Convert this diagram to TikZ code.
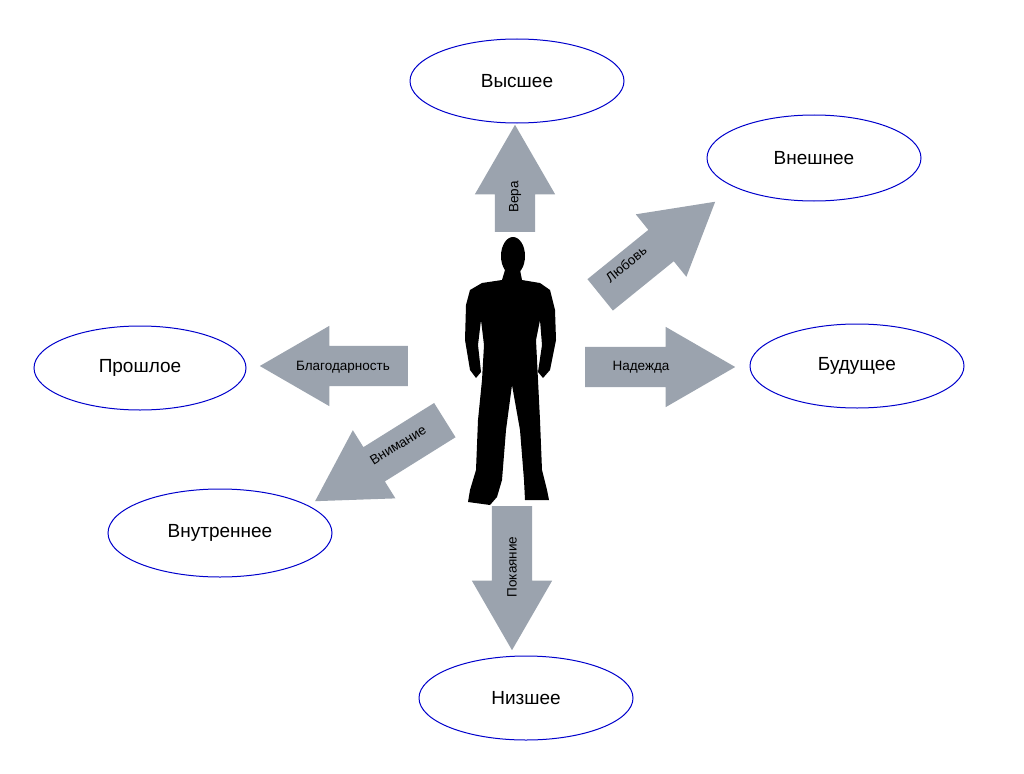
\documentclass[tikz,border=0pt]{standalone}
\usepackage{fontspec}
\setmainfont{Liberation Sans}
\usetikzlibrary{shapes.geometric,shapes.arrows}
\begin{document}
\begin{tikzpicture}[x=1pt,y=-1pt,
  ell/.style={ellipse,draw=blue!80!black,line width=1pt,fill=white,font=\fontsize{19}{21}\selectfont},
  arr/.style={single arrow,fill=arrgray,draw=none,inner sep=0pt,inner ysep=20pt,text height=0pt,text depth=0pt,text width=0pt,
    single arrow head extend=20pt,single arrow tip angle=60,anchor=tail},
  lab/.style={font=\fontsize{13.5}{15}\selectfont,inner sep=0pt}]
\definecolor{arrgray}{HTML}{9BA3AE}
\useasboundingbox (0,0) rectangle (1024,773);
\node[ell,minimum width=214pt,minimum height=84pt] (vys) at (517,81) {Высшее};
\node[ell,minimum width=214pt,minimum height=86pt] (vne) at (814,158) {Внешнее};
\node[ell,minimum width=212pt,minimum height=84pt] (pro) at (140,368) {Прошлое};
\node[ell,minimum width=214pt,minimum height=84pt] (bud) at (857,366) {Будущее};
\node[ell,minimum width=224pt,minimum height=88pt] (vnu) at (220,533) {Внутреннее};
\node[ell,minimum width=214pt,minimum height=84pt] (niz) at (526,698) {Низшее};
\node[arr,minimum height=107pt,rotate=90] (a1) at (515,232) {};
\node[arr,minimum height=144pt,rotate=-90] (a2) at (512,506) {};
\node[arr,minimum height=148pt,rotate=180] (a3) at (408,366) {};
\node[arr,minimum height=150pt] (a4) at (585,367) {};
\node[arr,minimum height=148pt,rotate=39] (a5) at (600,295) {};
\node[arr,minimum height=153pt,rotate=212] (a6) at (445,420) {};
\node[lab,rotate=90] (l1) at (515,197) {Вера};
\node[lab,rotate=90] (l2) at (512,567) {Покаяние};
\node[lab] (l3) at (343,367) {Благодарность};
\node[lab] (l4) at (641,367) {Надежда};
\node[lab,rotate=39] (l5) at (626,264) {Любовь};
\node[lab,rotate=32] (l6) at (398,445) {Внимание};
\fill (513,256) ellipse [x radius=12, y radius=19];
\fill (505,270)--(520,270)--(522,280)--(540,283)--(550,290)--(555,310)--(556,340)--(550,370)--(543,378)--(538,372)--(542,345)--(540,320)--(536,340)--(538,380)--(540,420)--(542,470)--(547,490)--(549,500)--(525,500)--(524,480)--(520,430)--(512,385)--(506,430)--(502,480)--(497,497)--(490,505)--(468,502)--(470,490)--(476,470)--(478,420)--(482,380)--(484,345)--(481,320)--(478,345)--(481,372)--(476,378)--(470,370)--(465,340)--(466,305)--(470,290)--(482,283)--(502,280)--cycle;
\end{tikzpicture}
\end{document}
